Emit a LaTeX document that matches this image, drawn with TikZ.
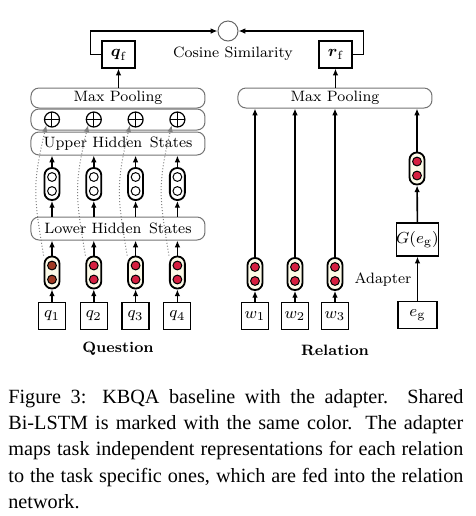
\documentclass[tikz,border=0pt]{standalone}
\usepackage{amsmath}
\usepackage{amssymb}
\usepackage{fontspec}
\newfontfamily\capfont{Liberation Serif}
\usepackage{tikz}
\usetikzlibrary{arrows.meta}

\definecolor{lstmred}{RGB}{214,32,64}
\definecolor{lstmbrown}{RGB}{160,58,34}
\definecolor{cellbg}{RGB}{252,250,232}

\tikzset{
  pool/.style={draw=black!55, line width=0.5pt, rounded corners=4pt, minimum width=87pt, inner sep=0pt},
  lstm/.style={draw, line width=0.9pt, rounded corners=3.6pt, minimum width=7.5pt, minimum height=16pt,
    inner sep=0pt, fill=cellbg,
    path picture={\foreach \d in {-3.5pt,3.5pt}
      \draw[fill=#1, line width=0.5pt] ([yshift=\d]path picture bounding box.center) circle (2.2pt);}},
  word/.style={draw, line width=0.6pt, minimum size=13.5pt, inner sep=0pt, font=\fontsize{8.5}{10}\selectfont},
  plus/.style={draw, circle, line width=0.6pt, minimum size=7.5pt, inner sep=0pt,
    path picture={\draw[line width=0.5pt] (path picture bounding box.north) -- (path picture bounding box.south)
      (path picture bounding box.west) -- (path picture bounding box.east);}},
  link/.style={->, line width=0.8pt},
  skip/.style={->, densely dotted, black!50, line width=0.5pt}
}

\begin{document}
\begin{tikzpicture}[x=0.5pt, y=-0.5pt, font=\fontsize{7.5}{9}\selectfont, >={Latex[length=3.4pt,width=2.8pt]}]
  \useasboundingbox (0,0) rectangle (476,516);

  % similarity on top
  \node[circle, draw=black!60, line width=0.5pt, minimum size=10pt, inner sep=0pt] (cos) at (228,31) {};
  \node (coslab) at (233,54) {Cosine Similarity};
  \node[word, minimum width=16.5pt] (qf) at (118.5,54.5) {$\boldsymbol{q}_{\mathrm{f}}$};
  \node[word, minimum width=16.5pt] (rf) at (335.5,54.5) {$\boldsymbol{r}_{\mathrm{f}}$};
  \draw[link] (qf.west) -- ++(-11,0) |- (cos);
  \draw[link] (rf.east) -- ++(11,0) |- (cos);

  % question side
  \node[pool, minimum height=10pt] (poolq) at (118,98) {Max Pooling};
  \node[pool, minimum height=10.5pt] (sumrow) at (118,119.5) {};
  \node[pool, minimum height=11.5pt] (upper) at (118,143.5) {Upper Hidden\hspace{0.5em}States};
  \node[pool, minimum height=11.5pt] (lower) at (118,228.5) {Lower Hidden\hspace{0.5em}States};
  \draw[link] (poolq.north -| qf) -- (qf);

  \foreach \i/\x/\c in {1/52/lstmbrown,2/93.8/lstmred,3/135.6/lstmred,4/177.4/lstmred} {
    \node[word] (q\i) at (\x,316) {$q_{\i}$};
    \node[lstm=\c] (lo\i) at (\x,272.5) {};
    \node[lstm=white, fill=white] (up\i) at (\x,184) {};
    \node[plus] (add\i) at (\x,119.5) {};
    \draw[link] (q\i) -- (lo\i);
    \draw[link] (lo\i) -- (lo\i |- lower.south);
    \draw[link] (lower.north -| up\i) -- (up\i);
    \draw[link] (up\i) -- (up\i |- upper.south);
    \draw[skip] (lo\i.north west) .. controls +(-10,-60) and +(-14,60) .. (add\i.south west);
  }
  \node[font=\fontsize{7.5}{9}\selectfont\bfseries] (qlab) at (118,349) {Question};

  % relation side
  \node[pool, minimum width=97pt, minimum height=10pt] (poolr) at (335,98) {Max Pooling};
  \draw[link] (poolr.north -| rf) -- (rf);

  \foreach \i/\x in {1/255,2/295,3/335} {
    \node[word] (w\i) at (\x,316) {$w_{\i}$};
    \node[lstm=lstmred] (re\i) at (\x,274) {};
    \draw[link] (w\i) -- (re\i);
    \draw[link] (re\i) -- (re\i |- poolr.south);
  }

  % adapter
  \node[word, minimum width=19.5pt] (eg) at (417.5,315) {$e_{\mathrm{g}}$};
  \node[word, minimum width=19.5pt, minimum height=16.5pt] (gen) at (417.5,239.5) {$G(e_{\mathrm{g}})$};
  \node[lstm=lstmred] (ad) at (417,168.5) {};
  \node (adlab) at (383,280) {Adapter};
  \draw[link] (eg) -- (gen);
  \draw[link] (gen) -- (ad);
  \draw[link] (ad) -- (ad |- poolr.south);
  \node[font=\fontsize{7.5}{9}\selectfont\bfseries] (rlab) at (335,350) {Relation};

  % caption
  \node[anchor=north west, text width=227.5pt, inner sep=0pt, align=justify,
    font=\capfont\fontsize{10.1}{13.1}\selectfont] (cap) at (8,389)
    {Figure 3: KBQA baseline with the adapter.\ \ Shared\linebreak
     Bi-LSTM is marked with the same color. The adapter\linebreak
     maps task independent representations for each relation\linebreak
     to the task specific ones, which are fed into the relation\linebreak
     network.};
\end{tikzpicture}
\end{document}
